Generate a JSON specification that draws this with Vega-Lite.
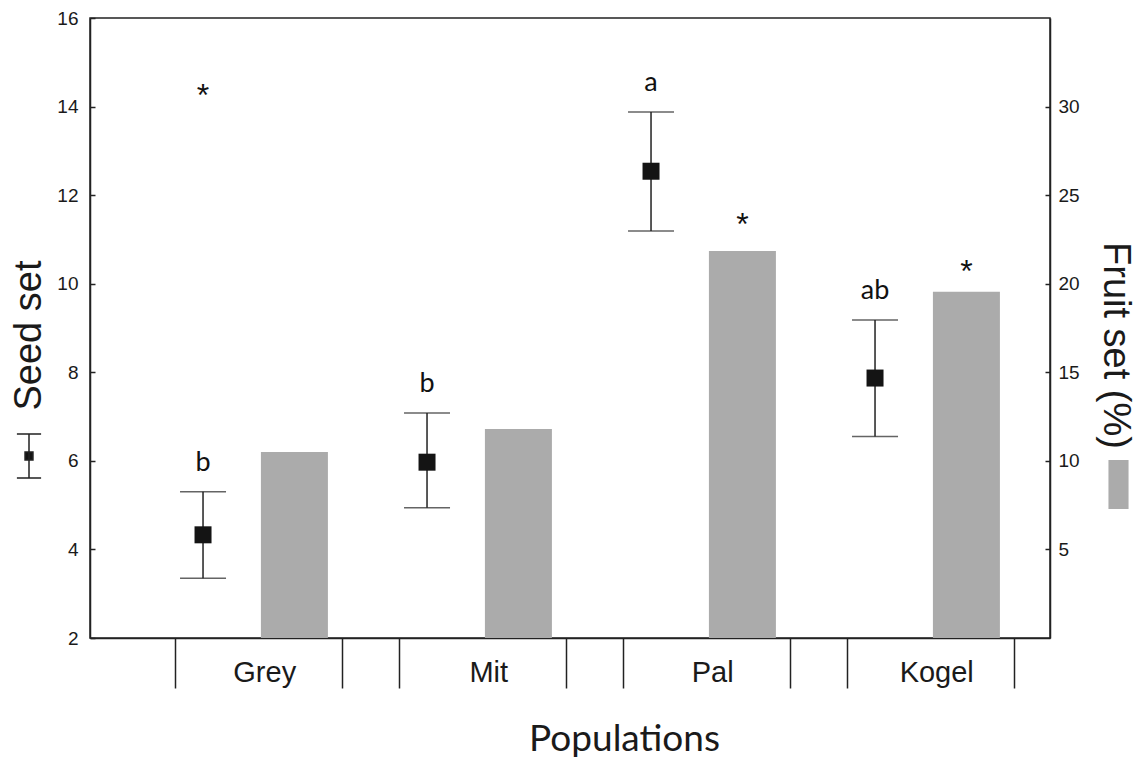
{
  "$schema": "https://vega.github.io/schema/vega-lite/v6.json",
  "width": 960,
  "height": 620,
  "autosize": {"type": "none"},
  "padding": {"left": 90, "top": 18, "right": 93, "bottom": 127},
  "background": "white",
  "config": {
    "view": {"stroke": "#222", "strokeWidth": 1.5},
    "axis": {"domainColor": "#222", "tickColor": "#222", "labelColor": "#1a1a1a", "titleColor": "#1a1a1a", "grid": false, "labelFont": "Liberation Sans", "titleFont": "Liberation Sans", "titleFontWeight": "normal", "domainWidth": 1.5, "tickWidth": 1.5},
    "text": {"font": "Lato"}
  },
  "datasets": {
    "pops": [
      {"pop": "Grey", "seed": 4.33, "lo": 3.35, "hi": 5.30, "fruit": 10.5, "letter": "b"},
      {"pop": "Mit", "seed": 5.97, "lo": 4.94, "hi": 7.08, "fruit": 11.8, "letter": "b"},
      {"pop": "Pal", "seed": 12.54, "lo": 11.19, "hi": 13.88, "fruit": 21.85, "letter": "a"},
      {"pop": "Kogel", "seed": 7.87, "lo": 6.55, "hi": 9.18, "fruit": 19.54, "letter": "ab"}
    ],
    "stars": [
      {"pop": "Grey", "series": "Seed", "y": 14.35},
      {"pop": "Pal", "series": "Fruit", "y": 11.44},
      {"pop": "Kogel", "series": "Fruit", "y": 10.38}
    ]
  },
  "layer": [
    {
      "data": {"name": "pops"},
      "encoding": {
        "x": {
          "field": "pop", "type": "nominal",
          "scale": {"domain": ["Grey", "Mit", "Pal", "Kogel"], "paddingInner": 0, "paddingOuter": 0.14286, "align": 0.73, "round": false},
          "axis": {"orient": "bottom", "title": "Populations", "bandPosition": 0.172, "tickSize": 50, "labelOffset": 16, "labelPadding": -30, "labelFontSize": 29, "labelAngle": 0, "titleFont": "Lato", "titleFontSize": 37, "titleX": 534, "titleY": 112, "titleBaseline": "alphabetic", "titleAlign": "center"}
        }
      },
      "layer": [
        {
          "mark": {"type": "rule", "color": "#222", "strokeWidth": 1.5},
          "encoding": {
            "xOffset": {"datum": "Seed", "type": "nominal", "scale": {"domain": ["Seed", "Fruit"], "paddingInner": 0.267, "paddingOuter": 0.359}},
            "y": {"field": "lo", "type": "quantitative", "title": "Seed set",
              "scale": {"domain": [2, 16], "nice": false, "zero": false},
              "axis": {"orient": "left", "values": [2, 4, 6, 8, 10, 12, 14, 16], "tickSize": -5, "labelPadding": 17, "labelFontSize": 19, "titleFontSize": 38, "titleAngle": -90, "titleX": -50, "titleY": 317, "titleAlign": "center", "titleBaseline": "alphabetic"}},
            "y2": {"field": "hi"}
          }
        },
        {
          "mark": {"type": "tick", "orient": "horizontal", "size": 46, "thickness": 1.5, "color": "#222"},
          "encoding": {
            "xOffset": {"datum": "Seed", "type": "nominal"},
            "y": {"field": "hi", "type": "quantitative", "title": "Seed set"}}
        },
        {
          "mark": {"type": "tick", "orient": "horizontal", "size": 46, "thickness": 1.5, "color": "#222"},
          "encoding": {
            "xOffset": {"datum": "Seed", "type": "nominal"},
            "y": {"field": "lo", "type": "quantitative", "title": "Seed set"}}
        },
        {
          "mark": {"type": "point", "shape": "square", "filled": true, "size": 289, "opacity": 1},
          "encoding": {
            "xOffset": {"datum": "Seed", "type": "nominal"},
            "y": {"field": "seed", "type": "quantitative", "title": "Seed set"},
            "fill": {"datum": "Seed set", "type": "nominal", "scale": {"range": ["#141414"]},
              "legend": {"orient": "none", "legendX": -84, "legendY": 415, "title": null, "padding": 0, "labelExpr": "''",
                "symbolType": "M-0.55,-1H0.55M0,-1V1M-0.55,1H0.55M-0.18,-0.18H0.18V0.18H-0.18Z", "symbolSize": 1936,
                "symbolStrokeColor": "#222", "symbolStrokeWidth": 1.5,
                "encode": {"symbols": {"update": {"stroke": {"value": "#222"}, "strokeWidth": {"value": 1.5}, "fill": {"value": "#141414"}}}}}}
          }
        },
        {
          "mark": {"type": "text", "font": "Lato", "fontSize": 27, "baseline": "alphabetic", "dy": -21, "color": "#111"},
          "encoding": {
            "xOffset": {"datum": "Seed", "type": "nominal"},
            "y": {"field": "hi", "type": "quantitative", "title": "Seed set"},
            "text": {"field": "letter"}
          }
        },
        {
          "data": {"name": "stars"},
          "mark": {"type": "text", "font": "Liberation Sans", "fontSize": 32, "baseline": "alphabetic", "dy": 15, "color": "#111"},
          "encoding": {
            "xOffset": {"field": "series", "type": "nominal"},
            "y": {"field": "y", "type": "quantitative", "title": "Seed set"},
            "text": {"value": "*"}
          }
        }
      ]
    },
    {
      "data": {"name": "pops"},
      "mark": {"type": "bar", "color": "#ababab"},
      "encoding": {
        "x": {
          "field": "pop", "type": "nominal",
          "scale": {"domain": ["Grey", "Mit", "Pal", "Kogel"], "paddingInner": 0, "paddingOuter": 0.14286, "align": 0.73, "round": false},
          "axis": {"orient": "bottom", "title": null, "bandPosition": 0.917, "tickSize": 50, "labels": false, "domain": false}
        },
        "xOffset": {"datum": "Fruit", "type": "nominal", "scale": {"domain": ["Seed", "Fruit"], "paddingInner": 0.267, "paddingOuter": 0.359}},
        "y": {"field": "fruit", "type": "quantitative", "title": "Fruit set (%)",
          "scale": {"domain": [0, 35], "nice": false},
          "axis": {"orient": "right", "values": [5, 10, 15, 20, 25, 30], "tickSize": -5, "labelPadding": 13, "labelFontSize": 19, "titleFontSize": 38, "titleAngle": 90, "titleX": 53, "titleY": 327, "titleAlign": "center", "titleBaseline": "alphabetic"}},
        "fill": {"datum": "Fruit set (%)", "type": "nominal", "scale": {"range": ["#ababab"]},
          "legend": {"orient": "none", "legendX": 1004, "legendY": 442, "title": null, "padding": 0, "labelExpr": "''",
            "symbolType": "M-0.41,-1H0.41V1H-0.41Z", "symbolSize": 2401, "symbolStrokeWidth": 0,
            "encode": {"symbols": {"update": {"fill": {"value": "#ababab"}, "strokeWidth": {"value": 0}}}}}}
      }
    }
  ],
  "resolve": {"scale": {"y": "independent", "fill": "independent"}, "axis": {"x": "independent"}}
}
